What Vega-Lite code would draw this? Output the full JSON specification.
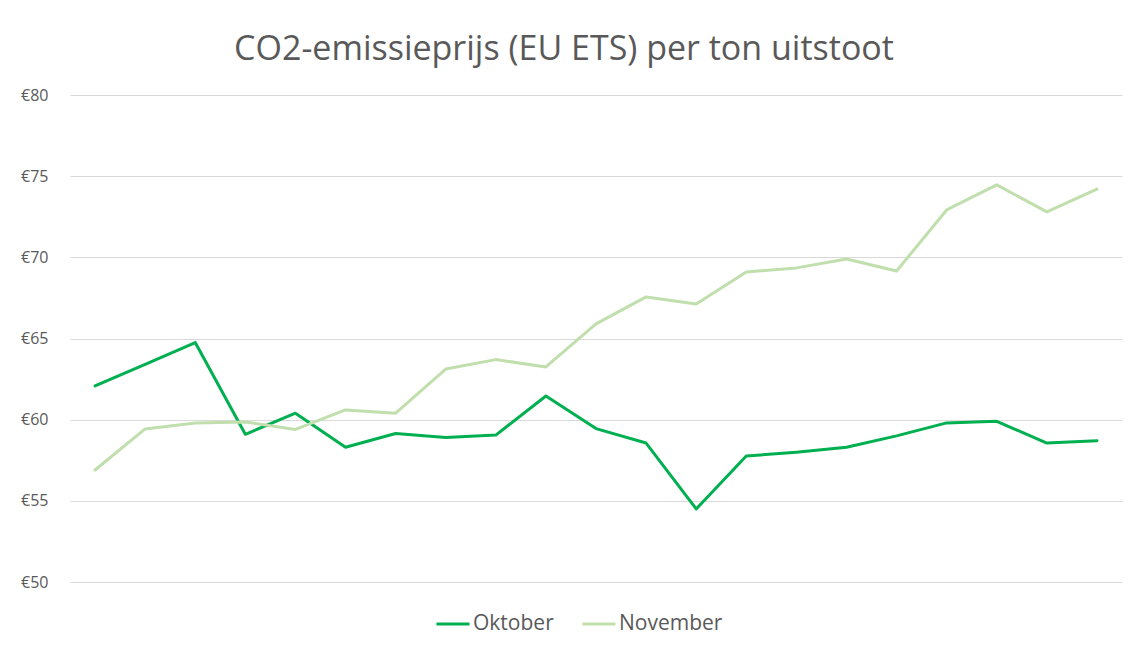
{
  "$schema": "https://vega.github.io/schema/vega-lite/v6.json",
  "width": 1052,
  "height": 487,
  "autosize": "none",
  "padding": {"left": 70, "top": 95, "right": 6, "bottom": 64},
  "background": "#ffffff",
  "title": {
    "text": "CO2-emissieprijs (EU ETS) per ton uitstoot",
    "font": "Open Sans",
    "fontSize": 34,
    "fontWeight": "normal",
    "color": "#595959",
    "anchor": "middle",
    "dx": -32,
    "offset": 20
  },
  "config": {
    "view": {"stroke": null},
    "font": "Open Sans"
  },
  "datasets": {
    "prijzen": [
      {"dag": 1, "maand": "Oktober", "prijs": 62.08},
      {"dag": 2, "maand": "Oktober", "prijs": 63.4},
      {"dag": 3, "maand": "Oktober", "prijs": 64.75},
      {"dag": 4, "maand": "Oktober", "prijs": 59.1},
      {"dag": 5, "maand": "Oktober", "prijs": 60.4},
      {"dag": 6, "maand": "Oktober", "prijs": 58.3},
      {"dag": 7, "maand": "Oktober", "prijs": 59.15},
      {"dag": 8, "maand": "Oktober", "prijs": 58.9},
      {"dag": 9, "maand": "Oktober", "prijs": 59.05},
      {"dag": 10, "maand": "Oktober", "prijs": 61.46},
      {"dag": 11, "maand": "Oktober", "prijs": 59.45},
      {"dag": 12, "maand": "Oktober", "prijs": 58.56},
      {"dag": 13, "maand": "Oktober", "prijs": 54.5},
      {"dag": 14, "maand": "Oktober", "prijs": 57.76},
      {"dag": 15, "maand": "Oktober", "prijs": 58.0},
      {"dag": 16, "maand": "Oktober", "prijs": 58.3},
      {"dag": 17, "maand": "Oktober", "prijs": 59.0},
      {"dag": 18, "maand": "Oktober", "prijs": 59.8},
      {"dag": 19, "maand": "Oktober", "prijs": 59.9},
      {"dag": 20, "maand": "Oktober", "prijs": 58.56},
      {"dag": 21, "maand": "Oktober", "prijs": 58.7},
      {"dag": 1, "maand": "November", "prijs": 56.9},
      {"dag": 2, "maand": "November", "prijs": 59.43},
      {"dag": 3, "maand": "November", "prijs": 59.8},
      {"dag": 4, "maand": "November", "prijs": 59.86},
      {"dag": 5, "maand": "November", "prijs": 59.4},
      {"dag": 6, "maand": "November", "prijs": 60.6},
      {"dag": 7, "maand": "November", "prijs": 60.4},
      {"dag": 8, "maand": "November", "prijs": 63.12},
      {"dag": 9, "maand": "November", "prijs": 63.7},
      {"dag": 10, "maand": "November", "prijs": 63.25},
      {"dag": 11, "maand": "November", "prijs": 65.9},
      {"dag": 12, "maand": "November", "prijs": 67.56},
      {"dag": 13, "maand": "November", "prijs": 67.13},
      {"dag": 14, "maand": "November", "prijs": 69.1},
      {"dag": 15, "maand": "November", "prijs": 69.35},
      {"dag": 16, "maand": "November", "prijs": 69.9},
      {"dag": 17, "maand": "November", "prijs": 69.16},
      {"dag": 18, "maand": "November", "prijs": 72.92},
      {"dag": 19, "maand": "November", "prijs": 74.46},
      {"dag": 20, "maand": "November", "prijs": 72.8},
      {"dag": 21, "maand": "November", "prijs": 74.2}
    ]
  },
  "data": {"name": "prijzen"},
  "mark": {"type": "line", "strokeWidth": 3, "strokeCap": "round", "strokeJoin": "round"},
  "encoding": {
    "x": {
      "field": "dag",
      "type": "ordinal",
      "scale": {"type": "point", "padding": 0.5},
      "axis": null
    },
    "y": {
      "field": "prijs",
      "type": "quantitative",
      "scale": {"domain": [50, 80], "zero": false, "nice": false},
      "axis": {
        "title": null,
        "values": [50, 55, 60, 65, 70, 75, 80],
        "labelExpr": "'€' + datum.value",
        "domain": false,
        "ticks": false,
        "labelPadding": 22,
        "labelFont": "Open Sans",
        "labelFontSize": 16,
        "labelColor": "#595959",
        "gridColor": "#D9D9D9",
        "gridWidth": 1
      }
    },
    "color": {
      "field": "maand",
      "type": "nominal",
      "sort": ["Oktober", "November"],
      "scale": {"domain": ["Oktober", "November"], "range": ["#00B050", "#C0DFAD"]},
      "legend": {
        "title": null,
        "orient": "none",
        "legendX": 365,
        "legendY": 511,
        "direction": "horizontal",
        "symbolType": "stroke",
        "symbolSize": 1089,
        "symbolStrokeWidth": 3,
        "labelFont": "Open Sans",
        "labelFontSize": 21,
        "labelColor": "#595959",
        "labelOffset": 2,
        "columnPadding": 22
      }
    }
  }
}
